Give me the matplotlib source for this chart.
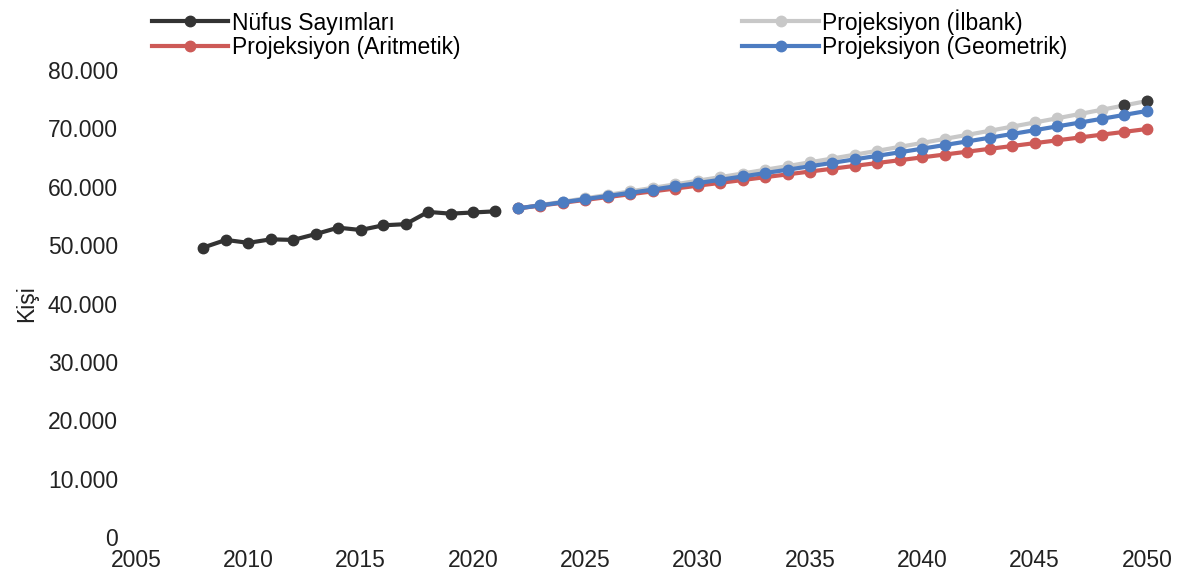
import matplotlib.pyplot as plt
from matplotlib.ticker import FuncFormatter

plt.rcParams['font.family'] = ['Liberation Sans', 'DejaVu Sans']

# Nüfus sayımları (2008-2021)
census_years = list(range(2008, 2022))
census_pop = [49600, 50900, 50400, 51000, 50900, 51900, 53000, 52600,
              53400, 53600, 55700, 55400, 55600, 55800]

# Projeksiyonlar (2022-2050)
proj_years = list(range(2022, 2051))
arith_pop = [56300, 56790, 57270, 57760, 58240, 58730, 59220, 59700,
             60190, 60670, 61160, 61650, 62130, 62620, 63100, 63590,
             64080, 64560, 65050, 65530, 66020, 66510, 66990, 67480,
             67960, 68450, 68940, 69420, 69910]
geom_pop = [56300, 56820, 57350, 57890, 58430, 58970, 59520, 60080,
            60640, 61200, 61770, 62350, 62930, 63520, 64110, 64710,
            65310, 65920, 66540, 67160, 67780, 68410, 69050, 69700,
            70350, 71000, 71660, 72330, 73000]
ilbank_pop = [56300, 56870, 57450, 58030, 58620, 59220, 59820, 60420,
              61040, 61660, 62280, 62920, 63550, 64200, 64850, 65510,
              66170, 66850, 67520, 68210, 68900, 69600, 70310, 71020,
              71740, 72470, 73210, 73950, 74700]

c_census = '#333333'
c_arith = '#cd5a57'
c_geom = '#4d7cc1'
c_ilbank = '#c8c8c8'

fs = 16.5

fig = plt.figure(figsize=(11.95, 5.84), dpi=100)
ax = fig.add_axes([0.1138, 0.0805, 0.846, 0.7995])

lw, ms = 3, 7.5
h_ilb, = ax.plot(proj_years, ilbank_pop, '-o', color=c_ilbank, lw=lw, ms=ms,
                 label='Projeksiyon (İlbank)', clip_on=False, zorder=2)
ax.plot(proj_years[-2:], ilbank_pop[-2:], 'o', color='#3a3a3a', ms=ms,
        clip_on=False, zorder=2)
h_ari, = ax.plot(proj_years, arith_pop, '-o', color=c_arith, lw=lw, ms=ms,
                 label='Projeksiyon (Aritmetik)', clip_on=False, zorder=3)
h_geo, = ax.plot(proj_years, geom_pop, '-o', color=c_geom, lw=lw, ms=ms,
                 label='Projeksiyon (Geometrik)', clip_on=False, zorder=4)
h_cen, = ax.plot(census_years, census_pop, '-o', color=c_census, lw=lw, ms=ms,
                 label='Nüfus Sayımları', clip_on=False, zorder=5)

ax.set_xlim(2005, 2050)
ax.set_ylim(0, 80000)
ax.set_xticks(range(2005, 2051, 5))
ax.set_yticks(range(0, 80001, 10000))
ax.yaxis.set_major_formatter(FuncFormatter(lambda v, p: f'{int(v):,}'.replace(',', '.')))
ax.tick_params(length=0, labelsize=fs, colors='#222222')
ax.tick_params(axis='y', pad=13)
ax.tick_params(axis='x', pad=9)
for s in ax.spines.values():
    s.set_visible(False)
ax.set_ylabel('Kişi', fontsize=fs, color='#222222')
ax.yaxis.set_label_coords(-0.097, 0.5)

fig.legend(handles=[h_cen, h_ari, h_ilb, h_geo], ncol=2, loc='upper left',
           bbox_to_anchor=(0.1096, 1.02), frameon=False, fontsize=fs,
           handlelength=3.35, handletextpad=0.15, columnspacing=12.3,
           labelspacing=0.05)

fig.savefig('out.png', dpi=100)
